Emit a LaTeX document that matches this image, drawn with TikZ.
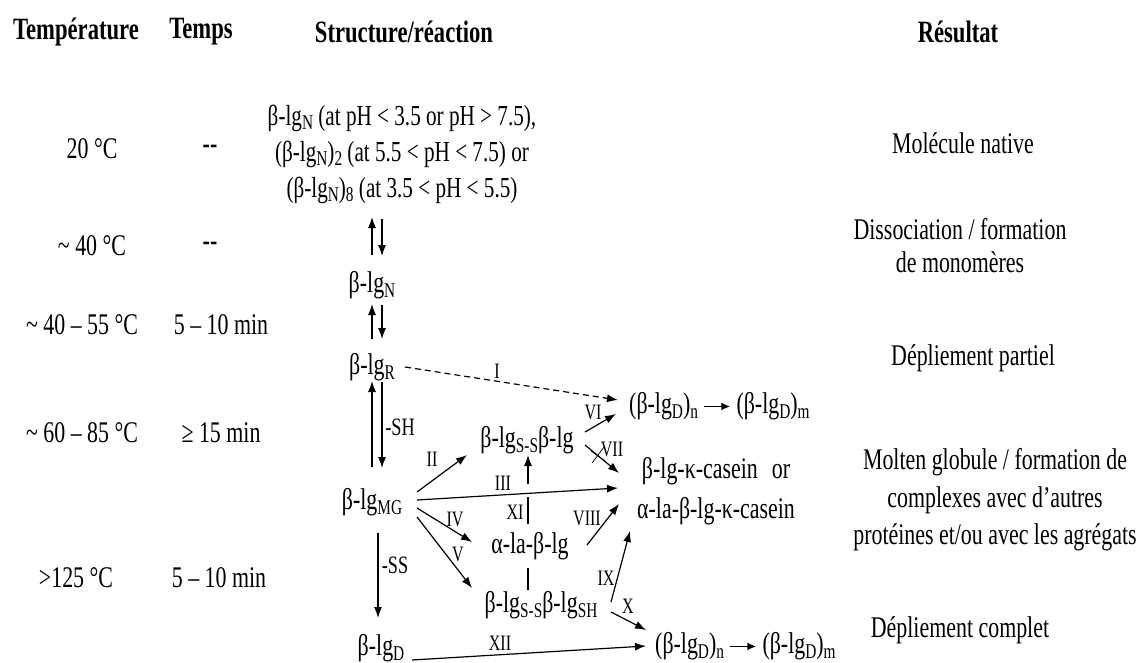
\documentclass[tikz,border=0pt]{standalone}
\usepackage{fontspec}
\setmainfont{Liberation Serif}[FakeStretch=0.73]
\usetikzlibrary{arrows.meta}
\newcommand\mysub[1]{\raisebox{-0.35ex}{\fontsize{21}{21}\selectfont #1}}
\newcommand\txtarrow{\tikz[baseline=-0.5ex]\draw[-{Latex[length=9pt,width=8pt]},line width=1.6pt] (0pt,0pt) -- (26pt,0pt);}
\begin{document}
\begin{tikzpicture}[x=1pt,y=-1pt,
  every node/.style={inner sep=0pt},
  hdr/.style={font=\bfseries\fontsize{31}{36}\selectfont},
  txt/.style={font=\fontsize{30}{36}\selectfont},
  lbl/.style={font=\fontsize{22}{24}\selectfont},
  arr/.style={-{Latex[length=11pt,width=8pt]}, line width=1.2pt},
  dasharr/.style={arr, dash pattern=on 6pt off 4pt},
  plainline/.style={line width=1.2pt}]
\fill[white] (0,0) rectangle (1142,663);
\useasboundingbox (0,0) rectangle (1142,663);

% headers
\node[hdr] (hT) at (76,32) {Température};
\node[hdr] (hTe) at (201,32) {Temps};
\node[hdr] (hS) at (404,32) {Structure/réaction};
\node[hdr] (hR) at (958,32) {Résultat};

% temperature column
\node[txt] (t1) at (92,149) {20 °C};
\node[txt] (t2) at (92,246) {\textasciitilde{} 40 °C};
\node[txt] (t3) at (82,325) {\textasciitilde{} 40 – 55 °C};
\node[txt] (t4) at (82,433) {\textasciitilde{} 60 – 85 °C};
\node[txt] (t5) at (76,578) {>125 °C};

% time column
\node[txt] (d1) at (210,149) {\textbf{-{}-}};
\node[txt] (d2) at (210,246) {\textbf{-{}-}};
\node[txt] (m3) at (221,325) {5 – 10 min};
\node[txt] (m4) at (221,433) {≥ 15 min};
\node[txt] (m5) at (219,578) {5 – 10 min};

% structure column
\node[txt, align=center, font=\fontsize{29}{36}\selectfont] (top) at (402,154) {β-lg\mysub{N} (at pH < 3.5 or pH > 7.5),\\(β-lg\mysub{N})\mysub{2} (at 5.5 < pH < 7.5) or\\(β-lg\mysub{N})\mysub{8} (at 3.5 < pH < 5.5)};
\node[txt] (N) at (372,285) {β-lg\mysub{N}};
\node[txt] (R) at (372,367) {β-lg\mysub{R}};
\node[txt] (MG) at (372,502) {β-lg\mysub{MG}};
\node[txt] (D) at (381,648) {β-lg\mysub{D}};
\node[txt, anchor=west] (Dn1) at (629,406) {(β-lg\mysub{D})\mysub{n} \txtarrow{} (β-lg\mysub{D})\mysub{m}};
\node[txt] (SSg) at (527,440) {β-lg\mysub{S-S}β-lg};
\node[txt] (kc) at (716,471) {β-lg-κ-casein\hspace{14pt}or};
\node[txt] (ak) at (716,511) {α-la-β-lg-κ-casein};
\node[txt] (al) at (530,546) {α-la-β-lg};
\node[txt] (SSH) at (541,605) {β-lg\mysub{S-S}β-lg\mysub{SH}};
\node[txt, anchor=west] (Dn2) at (655,646) {(β-lg\mysub{D})\mysub{n} \txtarrow{} (β-lg\mysub{D})\mysub{m}};

% result column
\node[txt] (r1) at (963,143) {Molécule native};
\node[txt, align=center, font=\fontsize{30}{33}\selectfont] (r2) at (960,246) {Dissociation / formation\\de monomères};
\node[txt] (r3) at (973,358) {Dépliement partiel};
\node[txt, align=center, font=\fontsize{30}{37.5}\selectfont] (r4) at (995,500) {Molten globule / formation de\\complexes avec d’autres\\protéines et/ou avec les agrégats};
\node[txt] (r5) at (960,630) {Dépliement complet};

% coordinates of connector ends
\coordinate (p1a) at (372,255); \coordinate (p1b) at (372,217);
\coordinate (p1c) at (382,219); \coordinate (p1d) at (382,256);
\coordinate (p2a) at (372,339); \coordinate (p2b) at (372,304);
\coordinate (p2c) at (382,305); \coordinate (p2d) at (382,339);
\coordinate (p3a) at (372,467); \coordinate (p3b) at (372,381);
\coordinate (p3c) at (382,382); \coordinate (p3d) at (382,468);
\coordinate (Ia) at (405,367); \coordinate (Ib) at (618,400);
\coordinate (IIa) at (417,492); \coordinate (IIb) at (467,455);
\coordinate (IIIa) at (417,500); \coordinate (IIIb) at (618,488);
\coordinate (IVa) at (417,508); \coordinate (IVb) at (472,542);
\coordinate (Va) at (417,517); \coordinate (Vb) at (472,588);
\coordinate (XIa) at (528,524); \coordinate (XIb) at (528,497);
\coordinate (XIc) at (528,484); \coordinate (XId) at (528,455);
\coordinate (XIe) at (528,568); \coordinate (XIf) at (528,590);
\coordinate (VIa) at (585,432); \coordinate (VIb) at (616,414);
\coordinate (VIIa) at (585,445); \coordinate (VIIb) at (619,473);
\coordinate (VIIIa) at (587,545); \coordinate (VIIIb) at (619,504);
\coordinate (IXa) at (611,602); \coordinate (IXb) at (630,531);
\coordinate (Xa) at (611,612); \coordinate (Xb) at (646,630);
\coordinate (SSa) at (378,533); \coordinate (SSb) at (378,618);
\coordinate (XIIa) at (412,660); \coordinate (XIIb) at (646,646);
\coordinate (cx1) at (592,463); \coordinate (cx2) at (604,447);
\coordinate (cx3) at (591,451); \coordinate (cx4) at (605,461);

% connectors
\draw[arr] (p1a) -- (p1b); \draw[arr] (p1c) -- (p1d);
\draw[arr] (p2a) -- (p2b); \draw[arr] (p2c) -- (p2d);
\draw[arr] (p3a) -- (p3b); \draw[arr] (p3c) -- (p3d);
\draw[dasharr] (Ia) -- (Ib);
\draw[arr] (IIa) -- (IIb);
\draw[arr] (IIIa) -- (IIIb);
\draw[arr] (IVa) -- (IVb);
\draw[arr] (Va) -- (Vb);
\draw[plainline] (XIa) -- (XIb);
\draw[arr] (XIc) -- (XId);
\draw[plainline] (XIe) -- (XIf);
\draw[arr] (VIa) -- (VIb);
\draw[arr] (VIIa) -- (VIIb);
\draw[line width=0.7pt] (cx1) -- (cx2) (cx3) -- (cx4);
\draw[arr] (VIIIa) -- (VIIIb);
\draw[arr] (IXa) -- (IXb);
\draw[arr] (Xa) -- (Xb);
\draw[arr] (SSa) -- (SSb);
\draw[arr] (XIIa) -- (XIIb);

% connector labels
\node[lbl] (lI) at (497,371) {I};
\node[lbl] (lII) at (432,459) {II};
\node[lbl] (lIII) at (503,483) {III};
\node[lbl] (lIV) at (455,519) {IV};
\node[lbl] (lV) at (458,554) {V};
\node[lbl] (lXI) at (515,512) {XI};
\node[lbl] (lVI) at (593,412) {VI};
\node[lbl] (lVII) at (612,449) {VII};
\node[lbl] (lVIII) at (587,518) {VIII};
\node[lbl] (lIX) at (606,578) {IX};
\node[lbl] (lX) at (628,606) {X};
\node[lbl] (lXII) at (500,643) {XII};
\node[txt, font=\fontsize{25}{28}\selectfont] (lSH) at (400,427) {-SH};
\node[txt, font=\fontsize{25}{28}\selectfont] (lSS) at (395,565) {-SS};
\end{tikzpicture}
\end{document}
